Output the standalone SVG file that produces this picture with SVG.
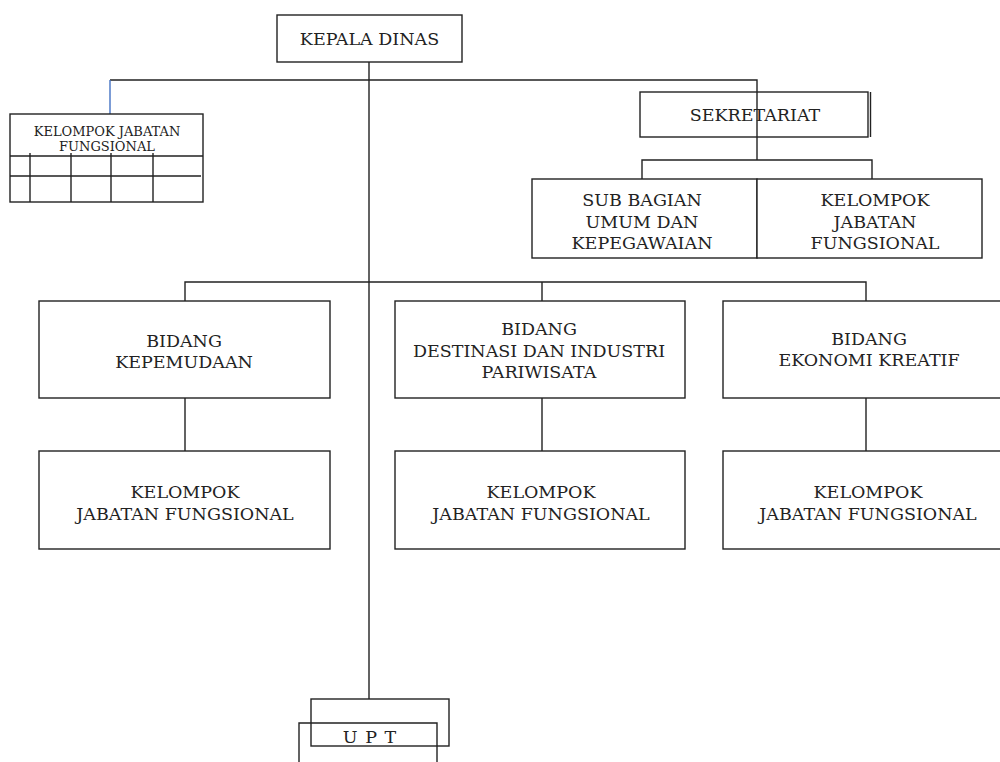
<svg xmlns="http://www.w3.org/2000/svg" width="1000" height="762" viewBox="0 0 1000 762">
<style>
.b{fill:#fff;stroke:#222;stroke-width:1.4}
.l{fill:none;stroke:#222;stroke-width:1.4}
.t{font-family:"DejaVu Serif","Liberation Serif",serif;font-size:17.5px;fill:#222;text-anchor:middle}
.s{font-family:"DejaVu Serif","Liberation Serif",serif;font-size:13px;fill:#222;text-anchor:middle}
</style>
<rect width="1000" height="762" fill="#fff"/>
<g id="connectors">
<path class="l" d="M369 62V699M110 80H757V160M642 179V160H872V179M185 301V282H866V301M542 282V301M185 398V451M542 398V451M866 398V451"/>
<path d="M110 80V114" stroke="#4472C4" stroke-width="1.4" fill="none"/>
</g>
<g id="kepala">
<rect class="b" x="277" y="15" width="185" height="47"/>
<text class="t" x="369.5" y="45">KEPALA DINAS</text>
</g>
<g id="kjf-kiri">
<rect class="b" x="10" y="114" width="193" height="88"/>
<path class="l" d="M10 156H203M10 176H201M30 153V202M71 153V202M111 153V202M153 153V202"/>
<text class="s" x="107" y="136">KELOMPOK JABATAN</text>
<text class="s" x="107" y="151">FUNGSIONAL</text>
</g>
<g id="sekretariat">
<rect class="b" x="640" y="92" width="228" height="45"/>
<path class="l" d="M870.5 92V137"/>
<path class="l" d="M757 92V137"/>
<text class="t" x="755" y="121">SEKRETARIAT</text>
</g>
<g id="subbagian">
<rect class="b" x="532" y="179" width="225" height="79"/>
<text class="t" x="642" y="206">SUB BAGIAN</text>
<text class="t" x="642" y="228">UMUM DAN</text>
<text class="t" x="642" y="249">KEPEGAWAIAN</text>
</g>
<g id="kjf-sekretariat">
<rect class="b" x="757" y="179" width="225" height="79"/>
<text class="t" x="875" y="206">KELOMPOK</text>
<text class="t" x="875" y="228">JABATAN</text>
<text class="t" x="875" y="249">FUNGSIONAL</text>
</g>
<g id="bidang-kepemudaan">
<rect class="b" x="39" y="301" width="291" height="97"/>
<text class="t" x="184" y="347">BIDANG</text>
<text class="t" x="184" y="368">KEPEMUDAAN</text>
</g>
<g id="bidang-destinasi">
<rect class="b" x="395" y="301" width="290" height="97"/>
<text class="t" x="539" y="335">BIDANG</text>
<text class="t" x="539" y="357">DESTINASI DAN INDUSTRI</text>
<text class="t" x="539" y="378">PARIWISATA</text>
</g>
<g id="bidang-ekraf">
<rect class="b" x="723" y="301" width="285" height="97"/>
<text class="t" x="869" y="345">BIDANG</text>
<text class="t" x="869" y="366">EKONOMI KREATIF</text>
</g>
<g id="kjf-1">
<rect class="b" x="39" y="451" width="291" height="98"/>
<text class="t" x="185" y="498">KELOMPOK</text>
<text class="t" x="185" y="520">JABATAN FUNGSIONAL</text>
</g>
<g id="kjf-2">
<rect class="b" x="395" y="451" width="290" height="98"/>
<text class="t" x="541" y="498">KELOMPOK</text>
<text class="t" x="541" y="520">JABATAN FUNGSIONAL</text>
</g>
<g id="kjf-3">
<rect class="b" x="723" y="451" width="285" height="98"/>
<text class="t" x="868" y="498">KELOMPOK</text>
<text class="t" x="868" y="520">JABATAN FUNGSIONAL</text>
</g>
<g id="upt">
<rect class="b" x="311" y="699" width="138" height="47"/>
<path class="l" d="M299 770V723H437V770"/>
<text class="t" x="370" y="743" letter-spacing="1">U P T</text>
</g>
</svg>
